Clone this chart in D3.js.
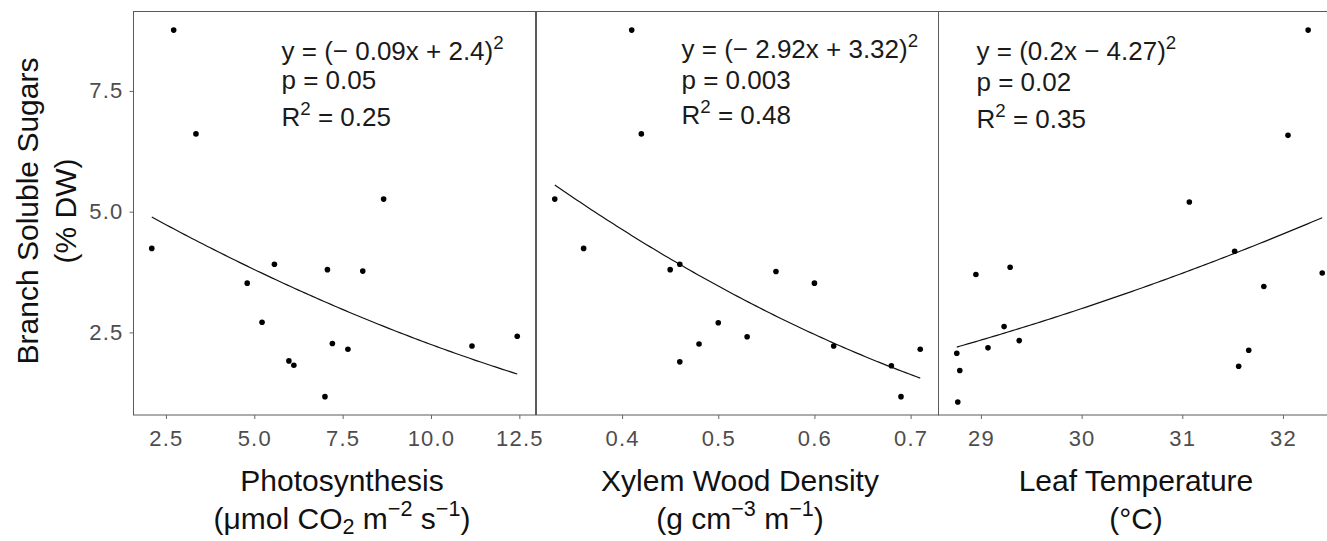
<!DOCTYPE html>
<html>
<head>
<meta charset="utf-8">
<script src="https://cdn.jsdelivr.net/npm/d3@7"></script>
<style>
  html, body { margin: 0; padding: 0; background: #fff; }
  svg { display: block; font-family: "Liberation Sans", Arial, Helvetica, sans-serif; }
</style>
</head>
<body>
<div id="chart"></div>
<script>
// values (same trees in every panel)
const photoX = [2.72, 3.35, 2.10, 8.66, 5.57, 4.80, 7.07, 8.07, 5.22, 7.21, 7.65, 5.98, 6.12, 7.00, 11.16, 12.44];
const photoY = [8.76, 6.61, 4.24, 5.26, 3.91, 3.52, 3.80, 3.77, 2.71, 2.27, 2.15, 1.91, 1.82, 1.17, 2.22, 2.42];

const densityX = [0.410, 0.420, 0.330, 0.360, 0.450, 0.460, 0.560, 0.600, 0.500, 0.530, 0.480, 0.460, 0.620, 0.680, 0.690, 0.710];
const densityY = [8.76, 6.61, 5.26, 4.24, 3.80, 3.91, 3.76, 3.52, 2.70, 2.41, 2.26, 1.89, 2.22, 1.81, 1.17, 2.15];

const tempX = [32.25, 32.05, 31.07, 31.52, 32.39, 31.81, 31.66, 31.56, 28.95, 29.29, 29.23, 29.38, 29.07, 28.76, 28.79, 28.77];
const tempY = [8.76, 6.58, 5.20, 4.18, 3.73, 3.45, 2.13, 1.80, 3.70, 3.85, 2.62, 2.33, 2.18, 2.07, 1.71, 1.06];

// fitted model y = (a*x + b)^2, as printed in each panel
const fitA = [-0.09, -2.92, 0.2];
const fitB = [2.4, 3.32, -4.27];
const pValues = ["0.05", "0.003", "0.02"];
const rSquared = ["0.25", "0.48", "0.35"];
const equations = ["y = (\u2212 0.09x + 2.4)", "y = (\u2212 2.92x + 3.32)", "y = (0.2x \u2212 4.27)"];

const yTicks = [2.5, 5.0, 7.5];
const photoTicks = [2.5, 5.0, 7.5, 10.0, 12.5];
const densityTicks = [0.4, 0.5, 0.6, 0.7];
const tempTicks = [29, 30, 31, 32];

const w = 1327, h = 541;
const plotTop = 11, plotBottom = 415;
const panelW = 402;
const lefts = [133.5, 536.5, 938.5];

const svg = d3.select("#chart").append("svg")
  .attr("width", w)
  .attr("height", h);

const yScale = d3.scaleLinear().domain([0.79, 9.155]).range([plotBottom, plotTop]);

// like ggplot: pad the data range by 5% on both sides
function padded(vals) {
  const [lo, hi] = d3.extent(vals);
  const r = hi - lo;
  return [lo - 0.05 * r, hi + 0.05 * r];
}

// text with super/subscript parts
function richText(g, x, y, parts, size, anchor, fill) {
  const t = g.append("text")
    .attr("x", x).attr("y", y)
    .attr("font-size", size)
    .attr("text-anchor", anchor)
    .attr("fill", fill);
  let shift = 0;
  parts.forEach(p => {
    const s = p.sup ? -0.42 * size : p.sub ? 0.18 * size : 0;
    t.append("tspan")
      .attr("dy", s - shift)
      .attr("font-size", (p.sup || p.sub) ? size * 0.72 : size)
      .text(p.t);
    shift = s;
  });
  return t;
}

const panels = [
  { xs: photoX, ys: photoY, ticks: photoTicks, fmt: d3.format(".1f"),
    title: "Photosynthesis", titleX: 342,
    unit: [{t: "(\u03bcmol CO"}, {t: "2", sub: true}, {t: " m"}, {t: "\u22122", sup: true}, {t: " s"}, {t: "\u22121", sup: true}, {t: ")"}],
    noteX: 148, noteY: [59.5, 88.5, 126] },
  { xs: densityX, ys: densityY, ticks: densityTicks, fmt: d3.format(".1f"),
    title: "Xylem Wood Density", titleX: 740,
    unit: [{t: "(g cm"}, {t: "\u22123", sup: true}, {t: " m"}, {t: "\u22121", sup: true}, {t: ")"}],
    noteX: 145, noteY: [58, 88.5, 123.5] },
  { xs: tempX, ys: tempY, ticks: tempTicks, fmt: d3.format("d"),
    title: "Leaf Temperature", titleX: 1136,
    unit: [{t: "(\u00b0C)"}],
    noteX: 38, noteY: [60, 91, 128] }
];

panels.forEach((p, i) => {
  const x0 = lefts[i];
  const xScale = d3.scaleLinear().domain(padded(p.xs)).range([x0, x0 + panelW]);
  const g = svg.append("g");

  // curve from the printed equation
  const [lo, hi] = d3.extent(p.xs);
  const curve = d3.range(0, 101).map(k => {
    const xv = lo + (hi - lo) * k / 100;
    return [xv, Math.pow(fitA[i] * xv + fitB[i], 2)];
  });
  g.append("path")
    .datum(curve)
    .attr("fill", "none")
    .attr("stroke", "#111")
    .attr("stroke-width", 1.2)
    .attr("d", d3.line().x(d => xScale(d[0])).y(d => yScale(d[1])));

  g.selectAll("circle")
    .data(p.xs.map((v, k) => [v, p.ys[k]]))
    .enter()
    .append("circle")
    .attr("cx", d => xScale(d[0]))
    .attr("cy", d => yScale(d[1]))
    .attr("r", 2.8)
    .attr("fill", "#000");

  // border
  g.append("rect")
    .attr("x", x0).attr("y", plotTop + 0.5)
    .attr("width", panelW).attr("height", plotBottom - plotTop - 0.5)
    .attr("fill", "none")
    .attr("stroke", "#5a5a5a")
    .attr("stroke-width", 1);

  const xAxis = d3.axisBottom(xScale)
    .tickValues(p.ticks)
    .tickFormat(p.fmt)
    .tickSize(4)
    .tickPadding(11);

  const ax = svg.append("g")
    .attr("class", "x-axis")
    .attr("transform", `translate(0, ${plotBottom})`)
    .call(xAxis);
  ax.select(".domain").remove();
  ax.selectAll(".tick line").attr("stroke", "#666");
  ax.selectAll(".tick text")
    .attr("font-size", 22)
    .attr("font-family", "Liberation Sans, Arial, sans-serif")
    .attr("letter-spacing", "1.2px")
    .attr("fill", "#4d4d4d");

  // annotation
  const nx = x0 + p.noteX;
  richText(g, nx, p.noteY[0], [{t: equations[i]}, {t: "2", sup: true}], 26, "start", "#1a1a1a");
  richText(g, nx, p.noteY[1], [{t: "p = " + pValues[i]}], 26, "start", "#1a1a1a");
  richText(g, nx, p.noteY[2], [{t: "R"}, {t: "2", sup: true}, {t: " = " + rSquared[i]}], 26, "start", "#1a1a1a");

  // axis titles
  svg.append("text")
    .attr("x", p.titleX).attr("y", 491)
    .attr("text-anchor", "middle")
    .attr("font-size", 30)
    .attr("fill", "#111")
    .text(p.title);
  richText(svg, p.titleX, 529, p.unit, 30, "middle", "#111");
});

const yAxis = d3.axisLeft(yScale)
  .tickValues(yTicks)
  .tickFormat(d3.format(".1f"))
  .tickSize(4)
  .tickPadding(6);

const ay = svg.append("g")
  .attr("class", "y-axis")
  .attr("transform", `translate(${lefts[0]}, 0)`)
  .call(yAxis);
ay.select(".domain").remove();
ay.selectAll(".tick line").attr("stroke", "#666");
ay.selectAll(".tick text")
  .attr("font-size", 22)
  .attr("font-family", "Liberation Sans, Arial, sans-serif")
  .attr("letter-spacing", "1.2px")
  .attr("fill", "#4d4d4d");

const yTitle = svg.append("g")
  .attr("transform", "translate(0, 211) rotate(-90)");
yTitle.append("text")
  .attr("x", 0).attr("y", 37.5)
  .attr("text-anchor", "middle")
  .attr("font-size", 30)
  .attr("fill", "#111")
  .text("Branch Soluble Sugars");
yTitle.append("text")
  .attr("x", 0).attr("y", 76)
  .attr("text-anchor", "middle")
  .attr("font-size", 30)
  .attr("fill", "#111")
  .text("(% DW)");
</script>
</body>
</html>
